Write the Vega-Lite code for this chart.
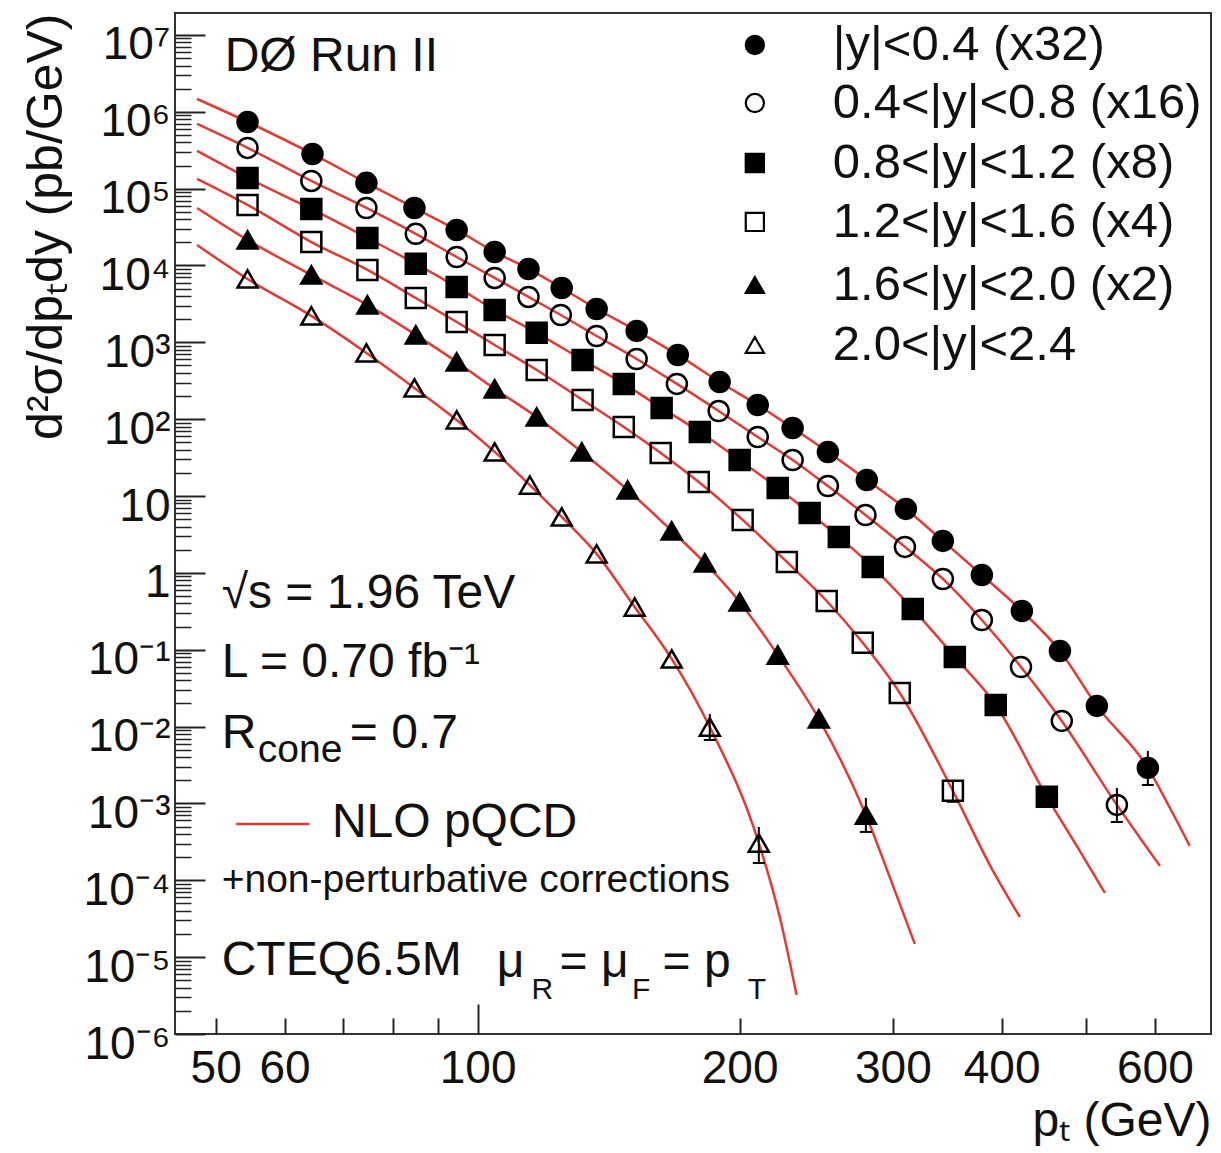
{
  "$schema": "https://vega.github.io/schema/vega-lite/v6.json",
  "width": 1036,
  "height": 1021,
  "autosize": {"type": "none"},
  "padding": {"left": 175, "top": 13, "right": 10, "bottom": 119},
  "background": "white",
  "config": {
    "font": "Liberation Sans",
    "view": {"stroke": "#333333", "strokeWidth": 2},
    "axis": {"grid": false, "domain": false, "labelFont": "Liberation Sans", "titleFont": "Liberation Sans", "labelColor": "#111111", "titleColor": "#111111", "titleFontWeight": "normal", "tickColor": "#222222", "tickWidth": 2, "labelOverlap": false, "labelFlush": false}
  },
  "resolve": {"axis": {"x": "independent", "y": "independent"}},
  "datasets": {
    "curves": [
      {"series": "A", "pt": 47.6, "xs": 1.47e6}, {"series": "A", "pt": 54.4, "xs": 7.38e5}, {"series": "A", "pt": 64.6, "xs": 2.83e5}, {"series": "A", "pt": 74.5, "xs": 1.19e5}, {"series": "A", "pt": 84.6, "xs": 5.61e4}, {"series": "A", "pt": 94.6, "xs": 2.90e4}, {"series": "A", "pt": 104.6, "xs": 1.50e4}, {"series": "A", "pt": 114.4, "xs": 9020}, {"series": "A", "pt": 124.9, "xs": 5100}, {"series": "A", "pt": 137.0, "xs": 2720}, {"series": "A", "pt": 152.3, "xs": 1410}, {"series": "A", "pt": 169.8, "xs": 686}, {"series": "A", "pt": 189.7, "xs": 305}, {"series": "A", "pt": 209.8, "xs": 153}, {"series": "A", "pt": 230.1, "xs": 76.9}, {"series": "A", "pt": 252.6, "xs": 37.5}, {"series": "A", "pt": 280.0, "xs": 16.2}, {"series": "A", "pt": 310.5, "xs": 6.8}, {"series": "A", "pt": 342.4, "xs": 2.61}, {"series": "A", "pt": 379.6, "xs": 0.94}, {"series": "A", "pt": 422.0, "xs": 0.32}, {"series": "A", "pt": 466.7, "xs": 0.0965}, {"series": "A", "pt": 514.6, "xs": 0.0186}, {"series": "A", "pt": 588.9, "xs": 0.0029}, {"series": "A", "pt": 624.4, "xs": 8.73e-4}, {"series": "A", "pt": 658, "xs": 2.8e-4},
      {"series": "B", "pt": 47.6, "xs": 6.95e5}, {"series": "B", "pt": 54.4, "xs": 3.39e5}, {"series": "B", "pt": 64.4, "xs": 1.26e5}, {"series": "B", "pt": 74.5, "xs": 5.61e4}, {"series": "B", "pt": 84.9, "xs": 2.58e4}, {"series": "B", "pt": 94.6, "xs": 1.29e4}, {"series": "B", "pt": 104.6, "xs": 6890}, {"series": "B", "pt": 114.4, "xs": 3900}, {"series": "B", "pt": 124.6, "xs": 2270}, {"series": "B", "pt": 137.0, "xs": 1210}, {"series": "B", "pt": 152.3, "xs": 608}, {"series": "B", "pt": 169.4, "xs": 288}, {"series": "B", "pt": 189.2, "xs": 128}, {"series": "B", "pt": 209.8, "xs": 58.7}, {"series": "B", "pt": 230.1, "xs": 29.5}, {"series": "B", "pt": 252.6, "xs": 13.5}, {"series": "B", "pt": 279.0, "xs": 5.67}, {"series": "B", "pt": 309.7, "xs": 2.18}, {"series": "B", "pt": 342.4, "xs": 0.834}, {"series": "B", "pt": 379.6, "xs": 0.244}, {"series": "B", "pt": 421.0, "xs": 0.0597}, {"series": "B", "pt": 469.0, "xs": 0.01186}, {"series": "B", "pt": 542.6, "xs": 9.57e-4}, {"series": "B", "pt": 576.8, "xs": 3.56e-4}, {"series": "B", "pt": 608, "xs": 1.54e-4},
      {"series": "C", "pt": 47.6, "xs": 3.1e5}, {"series": "C", "pt": 54.4, "xs": 1.38e5}, {"series": "C", "pt": 64.4, "xs": 5.44e4}, {"series": "C", "pt": 74.7, "xs": 2.28e4}, {"series": "C", "pt": 84.9, "xs": 1.05e4}, {"series": "C", "pt": 94.6, "xs": 5260}, {"series": "C", "pt": 104.6, "xs": 2640}, {"series": "C", "pt": 116.9, "xs": 1330}, {"series": "C", "pt": 132.0, "xs": 590}, {"series": "C", "pt": 147.2, "xs": 288}, {"series": "C", "pt": 162.7, "xs": 140}, {"series": "C", "pt": 180.0, "xs": 68.2}, {"series": "C", "pt": 200.0, "xs": 29.5}, {"series": "C", "pt": 221.2, "xs": 12.7}, {"series": "C", "pt": 240.7, "xs": 6.03}, {"series": "C", "pt": 260.0, "xs": 2.94}, {"series": "C", "pt": 284.4, "xs": 1.19}, {"series": "C", "pt": 316.2, "xs": 0.34}, {"series": "C", "pt": 353.4, "xs": 0.0806}, {"series": "C", "pt": 393.8, "xs": 0.0191}, {"series": "C", "pt": 450.8, "xs": 0.00122}, {"series": "C", "pt": 489.5, "xs": 2.64e-4}, {"series": "C", "pt": 525.6, "xs": 6.84e-5},
      {"series": "D", "pt": 47.6, "xs": 1.34e5}, {"series": "D", "pt": 54.4, "xs": 6.14e4}, {"series": "D", "pt": 64.4, "xs": 2.02e4}, {"series": "D", "pt": 74.7, "xs": 8750}, {"series": "D", "pt": 84.9, "xs": 3780}, {"series": "D", "pt": 94.6, "xs": 1840}, {"series": "D", "pt": 104.6, "xs": 925}, {"series": "D", "pt": 116.9, "xs": 437}, {"series": "D", "pt": 132.0, "xs": 178}, {"series": "D", "pt": 147.2, "xs": 79.3}, {"series": "D", "pt": 162.3, "xs": 36.4}, {"series": "D", "pt": 179.5, "xs": 15.2}, {"series": "D", "pt": 201.6, "xs": 4.89}, {"series": "D", "pt": 226.6, "xs": 1.39}, {"series": "D", "pt": 251.8, "xs": 0.431}, {"series": "D", "pt": 277.0, "xs": 0.123}, {"series": "D", "pt": 305.5, "xs": 0.0274}, {"series": "D", "pt": 351.6, "xs": 0.00146}, {"series": "D", "pt": 387.7, "xs": 1.58e-4}, {"series": "D", "pt": 419.8, "xs": 3.33e-5},
      {"series": "E", "pt": 47.6, "xs": 5.61e4}, {"series": "E", "pt": 54.4, "xs": 2.15e4}, {"series": "E", "pt": 64.4, "xs": 7530}, {"series": "E", "pt": 74.7, "xs": 3070}, {"series": "E", "pt": 84.9, "xs": 1250}, {"series": "E", "pt": 94.6, "xs": 556}, {"series": "E", "pt": 104.6, "xs": 248}, {"series": "E", "pt": 116.9, "xs": 107}, {"series": "E", "pt": 131.7, "xs": 37.5}, {"series": "E", "pt": 148.7, "xs": 12.0}, {"series": "E", "pt": 167.1, "xs": 3.52}, {"series": "E", "pt": 182.4, "xs": 1.35}, {"series": "E", "pt": 200.0, "xs": 0.419}, {"series": "E", "pt": 221.2, "xs": 0.0855}, {"series": "E", "pt": 246.6, "xs": 0.0126}, {"series": "E", "pt": 279.3, "xs": 7.08e-4}, {"series": "E", "pt": 297.5, "xs": 1.1e-4}, {"series": "E", "pt": 317.9, "xs": 1.49e-5},
      {"series": "F", "pt": 47.6, "xs": 1.85e4}, {"series": "F", "pt": 54.4, "xs": 6680}, {"series": "F", "pt": 64.4, "xs": 2210}, {"series": "F", "pt": 74.5, "xs": 728}, {"series": "F", "pt": 84.6, "xs": 255}, {"series": "F", "pt": 94.6, "xs": 97.8}, {"series": "F", "pt": 104.6, "xs": 37.5}, {"series": "F", "pt": 114.8, "xs": 13.9}, {"series": "F", "pt": 124.9, "xs": 5.35}, {"series": "F", "pt": 137.0, "xs": 1.77}, {"series": "F", "pt": 151.5, "xs": 0.36}, {"series": "F", "pt": 167.1, "xs": 0.0759}, {"series": "F", "pt": 184.8, "xs": 0.00989}, {"series": "F", "pt": 210.4, "xs": 3.06e-4}, {"series": "F", "pt": 222.4, "xs": 3.33e-5}, {"series": "F", "pt": 232.5, "xs": 3.22e-6}
    ],
    "pts": [
      {"series": "|y|<0.4 (x32)", "pt": 54.4, "xs": 7.38e5}, {"series": "|y|<0.4 (x32)", "pt": 64.6, "xs": 2.83e5}, {"series": "|y|<0.4 (x32)", "pt": 74.5, "xs": 1.19e5}, {"series": "|y|<0.4 (x32)", "pt": 84.6, "xs": 5.61e4}, {"series": "|y|<0.4 (x32)", "pt": 94.6, "xs": 2.90e4}, {"series": "|y|<0.4 (x32)", "pt": 104.6, "xs": 1.50e4}, {"series": "|y|<0.4 (x32)", "pt": 114.4, "xs": 9020}, {"series": "|y|<0.4 (x32)", "pt": 124.9, "xs": 5100}, {"series": "|y|<0.4 (x32)", "pt": 137.0, "xs": 2720}, {"series": "|y|<0.4 (x32)", "pt": 152.3, "xs": 1410}, {"series": "|y|<0.4 (x32)", "pt": 169.8, "xs": 686}, {"series": "|y|<0.4 (x32)", "pt": 189.7, "xs": 305}, {"series": "|y|<0.4 (x32)", "pt": 209.8, "xs": 153}, {"series": "|y|<0.4 (x32)", "pt": 230.1, "xs": 76.9}, {"series": "|y|<0.4 (x32)", "pt": 252.6, "xs": 37.5}, {"series": "|y|<0.4 (x32)", "pt": 280.0, "xs": 16.2}, {"series": "|y|<0.4 (x32)", "pt": 310.5, "xs": 6.8}, {"series": "|y|<0.4 (x32)", "pt": 342.4, "xs": 2.61}, {"series": "|y|<0.4 (x32)", "pt": 379.6, "xs": 0.94}, {"series": "|y|<0.4 (x32)", "pt": 422.0, "xs": 0.32}, {"series": "|y|<0.4 (x32)", "pt": 466.7, "xs": 0.0965}, {"series": "|y|<0.4 (x32)", "pt": 514.6, "xs": 0.0186}, {"series": "|y|<0.4 (x32)", "pt": 588.9, "xs": 0.0029},
      {"series": "0.4<|y|<0.8 (x16)", "pt": 54.4, "xs": 3.39e5}, {"series": "0.4<|y|<0.8 (x16)", "pt": 64.4, "xs": 1.26e5}, {"series": "0.4<|y|<0.8 (x16)", "pt": 74.5, "xs": 5.61e4}, {"series": "0.4<|y|<0.8 (x16)", "pt": 84.9, "xs": 2.58e4}, {"series": "0.4<|y|<0.8 (x16)", "pt": 94.6, "xs": 1.29e4}, {"series": "0.4<|y|<0.8 (x16)", "pt": 104.6, "xs": 6890}, {"series": "0.4<|y|<0.8 (x16)", "pt": 114.4, "xs": 3900}, {"series": "0.4<|y|<0.8 (x16)", "pt": 124.6, "xs": 2270}, {"series": "0.4<|y|<0.8 (x16)", "pt": 137.0, "xs": 1210}, {"series": "0.4<|y|<0.8 (x16)", "pt": 152.3, "xs": 608}, {"series": "0.4<|y|<0.8 (x16)", "pt": 169.4, "xs": 288}, {"series": "0.4<|y|<0.8 (x16)", "pt": 189.2, "xs": 128}, {"series": "0.4<|y|<0.8 (x16)", "pt": 209.8, "xs": 58.7}, {"series": "0.4<|y|<0.8 (x16)", "pt": 230.1, "xs": 29.5}, {"series": "0.4<|y|<0.8 (x16)", "pt": 252.6, "xs": 13.5}, {"series": "0.4<|y|<0.8 (x16)", "pt": 279.0, "xs": 5.67}, {"series": "0.4<|y|<0.8 (x16)", "pt": 309.7, "xs": 2.18}, {"series": "0.4<|y|<0.8 (x16)", "pt": 342.4, "xs": 0.834}, {"series": "0.4<|y|<0.8 (x16)", "pt": 379.6, "xs": 0.244}, {"series": "0.4<|y|<0.8 (x16)", "pt": 421.0, "xs": 0.0597}, {"series": "0.4<|y|<0.8 (x16)", "pt": 469.0, "xs": 0.01186}, {"series": "0.4<|y|<0.8 (x16)", "pt": 542.6, "xs": 9.57e-4},
      {"series": "0.8<|y|<1.2 (x8)", "pt": 54.4, "xs": 1.38e5}, {"series": "0.8<|y|<1.2 (x8)", "pt": 64.4, "xs": 5.44e4}, {"series": "0.8<|y|<1.2 (x8)", "pt": 74.7, "xs": 2.28e4}, {"series": "0.8<|y|<1.2 (x8)", "pt": 84.9, "xs": 1.05e4}, {"series": "0.8<|y|<1.2 (x8)", "pt": 94.6, "xs": 5260}, {"series": "0.8<|y|<1.2 (x8)", "pt": 104.6, "xs": 2640}, {"series": "0.8<|y|<1.2 (x8)", "pt": 116.9, "xs": 1330}, {"series": "0.8<|y|<1.2 (x8)", "pt": 132.0, "xs": 590}, {"series": "0.8<|y|<1.2 (x8)", "pt": 147.2, "xs": 288}, {"series": "0.8<|y|<1.2 (x8)", "pt": 162.7, "xs": 140}, {"series": "0.8<|y|<1.2 (x8)", "pt": 180.0, "xs": 68.2}, {"series": "0.8<|y|<1.2 (x8)", "pt": 200.0, "xs": 29.5}, {"series": "0.8<|y|<1.2 (x8)", "pt": 221.2, "xs": 12.7}, {"series": "0.8<|y|<1.2 (x8)", "pt": 240.7, "xs": 6.03}, {"series": "0.8<|y|<1.2 (x8)", "pt": 260.0, "xs": 2.94}, {"series": "0.8<|y|<1.2 (x8)", "pt": 284.4, "xs": 1.19}, {"series": "0.8<|y|<1.2 (x8)", "pt": 316.2, "xs": 0.34}, {"series": "0.8<|y|<1.2 (x8)", "pt": 353.4, "xs": 0.0806}, {"series": "0.8<|y|<1.2 (x8)", "pt": 393.8, "xs": 0.0191}, {"series": "0.8<|y|<1.2 (x8)", "pt": 450.8, "xs": 0.00122},
      {"series": "1.2<|y|<1.6 (x4)", "pt": 54.4, "xs": 6.14e4}, {"series": "1.2<|y|<1.6 (x4)", "pt": 64.4, "xs": 2.02e4}, {"series": "1.2<|y|<1.6 (x4)", "pt": 74.7, "xs": 8750}, {"series": "1.2<|y|<1.6 (x4)", "pt": 84.9, "xs": 3780}, {"series": "1.2<|y|<1.6 (x4)", "pt": 94.6, "xs": 1840}, {"series": "1.2<|y|<1.6 (x4)", "pt": 104.6, "xs": 925}, {"series": "1.2<|y|<1.6 (x4)", "pt": 116.9, "xs": 437}, {"series": "1.2<|y|<1.6 (x4)", "pt": 132.0, "xs": 178}, {"series": "1.2<|y|<1.6 (x4)", "pt": 147.2, "xs": 79.3}, {"series": "1.2<|y|<1.6 (x4)", "pt": 162.3, "xs": 36.4}, {"series": "1.2<|y|<1.6 (x4)", "pt": 179.5, "xs": 15.2}, {"series": "1.2<|y|<1.6 (x4)", "pt": 201.6, "xs": 4.89}, {"series": "1.2<|y|<1.6 (x4)", "pt": 226.6, "xs": 1.39}, {"series": "1.2<|y|<1.6 (x4)", "pt": 251.8, "xs": 0.431}, {"series": "1.2<|y|<1.6 (x4)", "pt": 277.0, "xs": 0.123}, {"series": "1.2<|y|<1.6 (x4)", "pt": 305.5, "xs": 0.0274}, {"series": "1.2<|y|<1.6 (x4)", "pt": 351.6, "xs": 0.00146},
      {"series": "1.6<|y|<2.0 (x2)", "pt": 54.4, "xs": 2.15e4}, {"series": "1.6<|y|<2.0 (x2)", "pt": 64.4, "xs": 7530}, {"series": "1.6<|y|<2.0 (x2)", "pt": 74.7, "xs": 3070}, {"series": "1.6<|y|<2.0 (x2)", "pt": 84.9, "xs": 1250}, {"series": "1.6<|y|<2.0 (x2)", "pt": 94.6, "xs": 556}, {"series": "1.6<|y|<2.0 (x2)", "pt": 104.6, "xs": 248}, {"series": "1.6<|y|<2.0 (x2)", "pt": 116.9, "xs": 107}, {"series": "1.6<|y|<2.0 (x2)", "pt": 131.7, "xs": 37.5}, {"series": "1.6<|y|<2.0 (x2)", "pt": 148.7, "xs": 12.0}, {"series": "1.6<|y|<2.0 (x2)", "pt": 167.1, "xs": 3.52}, {"series": "1.6<|y|<2.0 (x2)", "pt": 182.4, "xs": 1.35}, {"series": "1.6<|y|<2.0 (x2)", "pt": 200.0, "xs": 0.419}, {"series": "1.6<|y|<2.0 (x2)", "pt": 221.2, "xs": 0.0855}, {"series": "1.6<|y|<2.0 (x2)", "pt": 246.6, "xs": 0.0126}, {"series": "1.6<|y|<2.0 (x2)", "pt": 279.3, "xs": 7.08e-4},
      {"series": "2.0<|y|<2.4", "pt": 54.4, "xs": 6680}, {"series": "2.0<|y|<2.4", "pt": 64.4, "xs": 2210}, {"series": "2.0<|y|<2.4", "pt": 74.5, "xs": 728}, {"series": "2.0<|y|<2.4", "pt": 84.6, "xs": 255}, {"series": "2.0<|y|<2.4", "pt": 94.6, "xs": 97.8}, {"series": "2.0<|y|<2.4", "pt": 104.6, "xs": 37.5}, {"series": "2.0<|y|<2.4", "pt": 114.8, "xs": 13.9}, {"series": "2.0<|y|<2.4", "pt": 124.9, "xs": 5.35}, {"series": "2.0<|y|<2.4", "pt": 137.0, "xs": 1.77}, {"series": "2.0<|y|<2.4", "pt": 151.5, "xs": 0.36}, {"series": "2.0<|y|<2.4", "pt": 167.1, "xs": 0.0759}, {"series": "2.0<|y|<2.4", "pt": 184.8, "xs": 0.00989}, {"series": "2.0<|y|<2.4", "pt": 210.4, "xs": 3.06e-4}
    ],
    "leg": [
      {"series": "|y|<0.4 (x32)", "pt": 208.2, "lpt": 255.9, "xs": 7.41e6},
      {"series": "0.4<|y|<0.8 (x16)", "pt": 208.2, "lpt": 255.9, "xs": 1.3e6},
      {"series": "0.8<|y|<1.2 (x8)", "pt": 208.2, "lpt": 255.9, "xs": 2.16e5},
      {"series": "1.2<|y|<1.6 (x4)", "pt": 208.2, "lpt": 255.9, "xs": 3.69e4},
      {"series": "1.6<|y|<2.0 (x2)", "pt": 208.2, "lpt": 255.9, "xs": 5580},
      {"series": "2.0<|y|<2.4", "pt": 208.2, "lpt": 255.9, "xs": 925}
    ],
    "errs": [
      {"pt": 588.9, "lo": 0.00174, "hi": 0.00482},
      {"pt": 542.6, "lo": 5.74e-4, "hi": 0.00159},
      {"pt": 351.6, "lo": 0.00105, "hi": 0.002},
      {"pt": 279.3, "lo": 4.26e-4, "hi": 0.00118},
      {"pt": 184.8, "lo": 0.0067, "hi": 0.0146},
      {"pt": 210.4, "lo": 1.68e-4, "hi": 4.94e-4}
    ],
    "key": [{"pt": 52.8, "pt2": 64.1, "xs": 5.4e-4}],
    "big": [
      {"pt": 51.2, "xs": 5.18e6, "text": "DØ Run II"},
      {"pt": 50.8, "xs": 0.532, "text": "√s = 1.96 TeV"},
      {"pt": 50.8, "xs": 0.0673, "text": "L = 0.70 fb⁻¹"},
      {"pt": 50.8, "xs": 0.008, "text": "R"},
      {"pt": 71.3, "xs": 0.008, "text": "= 0.7"},
      {"pt": 68.0, "xs": 5.57e-4, "text": "NLO pQCD"},
      {"pt": 50.8, "xs": 8.93e-6, "text": "CTEQ6.5M"},
      {"pt": 105.2, "xs": 8.41e-6, "text": "μ"},
      {"pt": 124.2, "xs": 8.41e-6, "text": "= μ"},
      {"pt": 163.1, "xs": 8.41e-6, "text": "= p"}
    ],
    "mid": [
      {"pt": 50.8, "xs": 1.01e-4, "text": "+non-perturbative corrections"},
      {"pt": 55.9, "xs": 0.00497, "text": "cone"}
    ],
    "subs": [
      {"pt": 115.3, "xs": 3.74e-6, "text": "R"},
      {"pt": 150.4, "xs": 3.74e-6, "text": "F"},
      {"pt": 204.3, "xs": 3.74e-6, "text": "T"}
    ]
  },
  "layer": [
    {
      "data": {"name": "curves"},
      "mark": {"type": "line", "color": "#e33b33", "strokeWidth": 2.5, "interpolate": "monotone"},
      "encoding": {
        "x": {"field": "pt", "type": "quantitative", "scale": {"type": "log", "domain": [44.9, 696], "nice": false},
          "axis": {"orient": "bottom", "values": [50, 60, 100, 200, 300, 400, 600], "format": "d", "ticks": false,
            "labelFontSize": 46, "labelPadding": 12,
            "title": "pₜ (GeV)", "titleFontSize": 48, "titleAnchor": "end", "titlePadding": 6}},
        "y": {"field": "xs", "type": "quantitative", "scale": {"type": "log", "domain": [1e-6, 1.93e7], "nice": false},
          "axis": {"orient": "left", "values": [1e-6, 1e-5, 1e-4, 0.001, 0.01, 0.1, 1, 10, 100, 1000, 1e4, 1e5, 1e6, 1e7], "ticks": false,
            "labelExpr": "['10⁻⁶','10⁻⁵','10⁻⁴','10⁻³','10⁻²','10⁻¹','1','10','10²','10³','10⁴','10⁵','10⁶','10⁷'][round(log(datum.value)/LN10) + 6]",
            "labelOffset": 10, "labelFontSize": 46, "labelPadding": 5,
            "title": "d²σ/dpₜdy (pb/GeV)", "titleFontSize": 50, "titleAnchor": "end", "titlePadding": 12}},
        "detail": {"field": "series", "type": "nominal"}
      }
    },
    {
      "data": {"name": "errs"},
      "mark": {"type": "rule", "color": "black", "strokeWidth": 2},
      "encoding": {
        "x": {"field": "pt", "type": "quantitative", "axis": null},
        "y": {"field": "lo", "type": "quantitative", "axis": null},
        "y2": {"field": "hi"}
      }
    },
    {
      "data": {"name": "errs"},
      "mark": {"type": "tick", "orient": "horizontal", "color": "black", "size": 12, "thickness": 2, "opacity": 1},
      "encoding": {
        "x": {"field": "pt", "type": "quantitative", "axis": null},
        "y": {"field": "lo", "type": "quantitative", "axis": null}
      }
    },
    {
      "data": {"name": "pts"},
      "mark": {"type": "point", "filled": false, "size": 400, "color": "black", "stroke": "black", "strokeWidth": 2.5, "opacity": 1, "fillOpacity": 1, "strokeOpacity": 1},
      "encoding": {
        "x": {"field": "pt", "type": "quantitative",
          "axis": {"orient": "bottom", "values": [50, 60, 70, 80, 90, 200, 300, 400, 500, 600], "labels": false, "tickSize": -16, "title": null}},
        "y": {"field": "xs", "type": "quantitative",
          "axis": {"orient": "left", "values": [1e-6, 1e-5, 1e-4, 0.001, 0.01, 0.1, 1, 10, 100, 1000, 1e4, 1e5, 1e6, 1e7], "labels": false, "tickSize": -30, "title": null}},
        "shape": {"field": "series", "type": "nominal", "sort": null, "legend": null,
          "scale": {"domain": ["|y|<0.4 (x32)", "0.4<|y|<0.8 (x16)", "0.8<|y|<1.2 (x8)", "1.2<|y|<1.6 (x4)", "1.6<|y|<2.0 (x2)", "2.0<|y|<2.4"], "range": ["circle", "circle", "square", "square", "triangle-up", "triangle-up"]}},
        "fill": {"field": "series", "type": "nominal", "sort": null, "legend": null,
          "scale": {"domain": ["|y|<0.4 (x32)", "0.4<|y|<0.8 (x16)", "0.8<|y|<1.2 (x8)", "1.2<|y|<1.6 (x4)", "1.6<|y|<2.0 (x2)", "2.0<|y|<2.4"], "range": ["black", "transparent", "black", "transparent", "black", "transparent"]}}
      }
    },
    {
      "data": {"name": "leg"},
      "mark": {"type": "point", "filled": false, "size": 330, "color": "black", "stroke": "black", "strokeWidth": 2.2, "opacity": 1, "fillOpacity": 1, "strokeOpacity": 1},
      "encoding": {
        "x": {"field": "pt", "type": "quantitative", "axis": null},
        "y": {"field": "xs", "type": "quantitative", "axis": null},
        "shape": {"field": "series", "type": "nominal", "sort": null, "legend": null},
        "fill": {"field": "series", "type": "nominal", "sort": null, "legend": null}
      }
    },
    {
      "data": {"name": "leg"},
      "mark": {"type": "text", "align": "left", "baseline": "middle", "fontSize": 49, "font": "Liberation Sans", "color": "#111111"},
      "encoding": {
        "x": {"field": "lpt", "type": "quantitative", "axis": null},
        "y": {"field": "xs", "type": "quantitative", "axis": null},
        "text": {"field": "series"}
      }
    },
    {
      "data": {"name": "key"},
      "mark": {"type": "rule", "color": "#e33b33", "strokeWidth": 2.5},
      "encoding": {
        "x": {"field": "pt", "type": "quantitative",
          "axis": {"orient": "bottom", "values": [100], "labels": false, "tickSize": -30, "title": null}},
        "x2": {"field": "pt2"},
        "y": {"field": "xs", "type": "quantitative",
          "axis": {"orient": "left", "values": [2e-6, 3e-6, 4e-6, 5e-6, 6e-6, 7e-6, 8e-6, 9e-6, 2e-5, 3e-5, 4e-5, 5e-5, 6e-5, 7e-5, 8e-5, 9e-5, 2e-4, 3e-4, 4e-4, 5e-4, 6e-4, 7e-4, 8e-4, 9e-4, 0.002, 0.003, 0.004, 0.005, 0.006, 0.007, 0.008, 0.009, 0.02, 0.03, 0.04, 0.05, 0.06, 0.07, 0.08, 0.09, 0.2, 0.3, 0.4, 0.5, 0.6, 0.7, 0.8, 0.9, 2, 3, 4, 5, 6, 7, 8, 9, 20, 30, 40, 50, 60, 70, 80, 90, 200, 300, 400, 500, 600, 700, 800, 900, 2000, 3000, 4000, 5000, 6000, 7000, 8000, 9000, 2e4, 3e4, 4e4, 5e4, 6e4, 7e4, 8e4, 9e4, 2e5, 3e5, 4e5, 5e5, 6e5, 7e5, 8e5, 9e5, 2e6, 3e6, 4e6, 5e6, 6e6, 7e6, 8e6, 9e6], "labels": false, "tickSize": -16, "tickWidth": 1.5, "title": null}}
      }
    },
    {
      "data": {"name": "big"},
      "mark": {"type": "text", "align": "left", "baseline": "middle", "fontSize": 48, "font": "Liberation Sans", "color": "#111111"},
      "encoding": {
        "x": {"field": "pt", "type": "quantitative", "axis": null},
        "y": {"field": "xs", "type": "quantitative", "axis": null},
        "text": {"field": "text"}
      }
    },
    {
      "data": {"name": "mid"},
      "mark": {"type": "text", "align": "left", "baseline": "middle", "fontSize": 39, "font": "Liberation Sans", "color": "#111111"},
      "encoding": {
        "x": {"field": "pt", "type": "quantitative", "axis": null},
        "y": {"field": "xs", "type": "quantitative", "axis": null},
        "text": {"field": "text"}
      }
    },
    {
      "data": {"name": "subs"},
      "mark": {"type": "text", "align": "left", "baseline": "middle", "fontSize": 30, "font": "Liberation Sans", "color": "#111111"},
      "encoding": {
        "x": {"field": "pt", "type": "quantitative", "axis": null},
        "y": {"field": "xs", "type": "quantitative", "axis": null},
        "text": {"field": "text"}
      }
    }
  ]
}
